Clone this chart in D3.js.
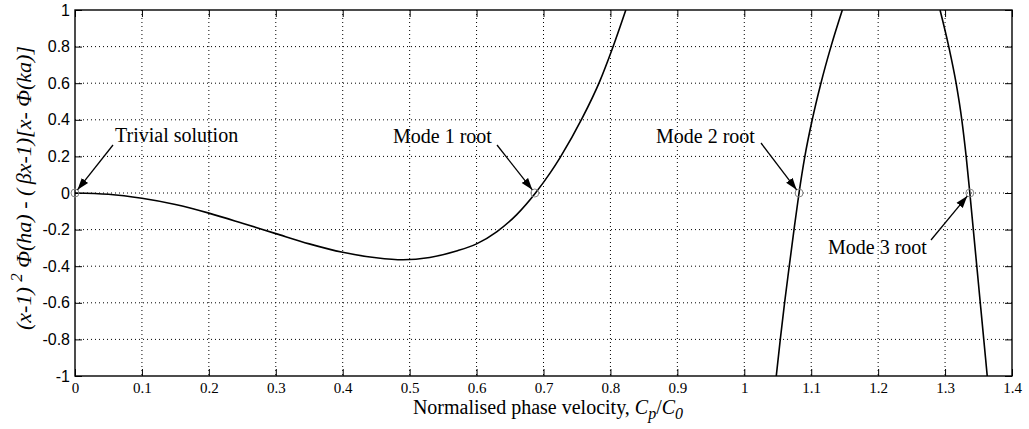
<!DOCTYPE html>
<meta charset="utf-8">
<html>
<head>
<script src="https://d3js.org/d3.v7.min.js"></script>
<style>
body { margin: 0; background: #fff; }
svg { display: block; }
.grid line { stroke: #000; stroke-width: 1; stroke-dasharray: 1,3; }
.lbl { font-family: "Liberation Serif", serif; fill: #000; }
</style>
</head>
<body>
<svg width="1029" height="429"></svg>
<script>

// branches of the dispersion function
var mode1X = [0, 0.05, 0.1, 0.15, 0.2, 0.25, 0.3, 0.35, 0.4, 0.45, 0.49, 0.53, 0.57, 0.6, 0.63, 0.66, 0.688, 0.71, 0.725, 0.758, 0.784, 0.802, 0.823];
var mode1Y = [0, -0.007, -0.029, -0.063, -0.11, -0.165, -0.222, -0.278, -0.324, -0.354, -0.365, -0.352, -0.317, -0.278, -0.212, -0.118, 0, 0.11, 0.195, 0.41, 0.61, 0.78, 1.0];

var mode2X = [1.0478, 1.0538, 1.0602, 1.0672, 1.0743, 1.0818, 1.0905, 1.1015, 1.1145, 1.1295, 1.1465];
var mode2Y = [-1, -0.8, -0.6, -0.4, -0.2, 0, 0.2, 0.4, 0.6, 0.8, 1];

var mode3X = [1.2925, 1.3055, 1.3165, 1.325, 1.3315, 1.337, 1.3422, 1.3474, 1.3526, 1.3578, 1.363];
var mode3Y = [1, 0.8, 0.6, 0.4, 0.2, 0, -0.2, -0.4, -0.6, -0.8, -1];

var rootX = [0, 0.687, 1.0818, 1.337];
var rootY = [0, 0, 0, 0];

var xTicks = [0, 0.1, 0.2, 0.3, 0.4, 0.5, 0.6, 0.7, 0.8, 0.9, 1, 1.1, 1.2, 1.3, 1.4];
var yTicks = [-1, -0.8, -0.6, -0.4, -0.2, 0, 0.2, 0.4, 0.6, 0.8, 1];

var notes = [
  { text: "Trivial solution", tx: 115, ty: 142, x0: 113, y0: 145, i: 0 },
  { text: "Mode 1 root", tx: 393, ty: 143, x0: 497, y0: 145, i: 1 },
  { text: "Mode 2 root", tx: 656, ty: 143, x0: 761, y0: 143, i: 2 },
  { text: "Mode 3 root", tx: 828, ty: 254, x0: 931, y0: 240, i: 3 }
];

var svg = d3.select("svg"),
    margin = {left: 75, right: 17, top: 10, bottom: 53},
    width = +svg.attr("width") - margin.left - margin.right,
    height = +svg.attr("height") - margin.top - margin.bottom;

var x = d3.scaleLinear().domain([0, 1.4]).range([margin.left, margin.left + width]);
var y = d3.scaleLinear().domain([-1, 1]).range([margin.top + height, margin.top]);

var defs = svg.append("defs");
defs.append("clipPath").attr("id", "clip")
  .append("rect").attr("x", margin.left).attr("y", margin.top)
  .attr("width", width).attr("height", height);
defs.append("marker").attr("id", "head")
  .attr("viewBox", "0 0 12 10").attr("refX", 12).attr("refY", 5)
  .attr("markerWidth", 12).attr("markerHeight", 10)
  .attr("markerUnits", "userSpaceOnUse")
  .attr("orient", "auto")
  .append("path").attr("d", "M0,1 L12,5 L0,9 Z").attr("fill", "#000");

// grid
svg.append("g").attr("class", "grid")
  .selectAll("line").data(xTicks.slice(1, -1)).enter().append("line")
  .attr("x1", d => x(d)).attr("x2", d => x(d))
  .attr("y1", margin.top).attr("y2", margin.top + height);
svg.append("g").attr("class", "grid")
  .selectAll("line").data(yTicks.slice(1, -1)).enter().append("line")
  .attr("y1", d => y(d)).attr("y2", d => y(d))
  .attr("x1", margin.left).attr("x2", margin.left + width);

// axes, ticks inward like matlab
var fmt = d => String(+d.toFixed(1));
svg.append("g")
  .attr("transform", "translate(0," + (margin.top + height) + ")")
  .call(d3.axisBottom(x).tickValues(xTicks).tickFormat(fmt).tickSizeInner(-7).tickSizeOuter(0).tickPadding(6))
  .call(g => g.select(".domain").remove())
  .call(g => g.selectAll("text").style("font-family", "'Liberation Serif', serif").style("font-size", "15px"));
svg.append("g")
  .attr("transform", "translate(0," + margin.top + ")")
  .call(d3.axisTop(x).tickValues(xTicks).tickFormat("").tickSizeInner(-7).tickSizeOuter(0))
  .call(g => g.select(".domain").remove());
svg.append("g")
  .attr("transform", "translate(" + margin.left + ",0)")
  .call(d3.axisLeft(y).tickValues(yTicks).tickFormat(fmt).tickSizeInner(-7).tickSizeOuter(0).tickPadding(5))
  .call(g => g.select(".domain").remove())
  .call(g => g.selectAll("text").style("font-family", "'Liberation Sans', Arial, sans-serif").style("font-size", "16px"));
svg.append("g")
  .attr("transform", "translate(" + (margin.left + width) + ",0)")
  .call(d3.axisRight(y).tickValues(yTicks).tickFormat("").tickSizeInner(-7).tickSizeOuter(0))
  .call(g => g.select(".domain").remove());
svg.selectAll(".tick line").attr("stroke", "#000");
svg.selectAll(".tick text").attr("fill", "#000");

svg.append("rect")
  .attr("x", margin.left).attr("y", margin.top)
  .attr("width", width).attr("height", height)
  .attr("fill", "none").attr("stroke", "#000").attr("stroke-width", 1.4);

// curves
var line = d3.line().x(d => x(d[0])).y(d => y(d[1])).curve(d3.curveMonotoneX);
[[mode1X, mode1Y], [mode2X, mode2Y], [mode3X, mode3Y]].forEach(function(m) {
  svg.append("path")
    .datum(d3.zip(m[0], m[1]))
    .attr("clip-path", "url(#clip)")
    .attr("fill", "none").attr("stroke", "#000").attr("stroke-width", 1.6)
    .attr("d", line);
});

// roots
svg.selectAll("circle.root").data(d3.zip(rootX, rootY)).enter().append("circle")
  .attr("class", "root")
  .attr("cx", d => x(d[0])).attr("cy", d => y(d[1])).attr("r", 4)
  .attr("fill", "none").attr("stroke", "#888").attr("stroke-width", 1);

// annotations
notes.forEach(function(n) {
  var tx = x(rootX[n.i]), ty = y(rootY[n.i]);
  var dx = tx - n.x0, dy = ty - n.y0, len = Math.sqrt(dx * dx + dy * dy);
  svg.append("line")
    .attr("x1", n.x0).attr("y1", n.y0)
    .attr("x2", tx - dx / len * 4).attr("y2", ty - dy / len * 4)
    .attr("stroke", "#000").attr("stroke-width", 1.3)
    .attr("marker-end", "url(#head)");
  svg.append("text").attr("class", "lbl").attr("font-size", 20)
    .attr("x", n.tx).attr("y", n.ty).text(n.text);
});

// axis labels
var xl = svg.append("text").attr("class", "lbl").attr("font-size", 20)
  .attr("x", 548).attr("y", 414).attr("text-anchor", "middle");
xl.append("tspan").text("Normalised phase velocity, ");
xl.append("tspan").attr("font-style", "italic").text("C");
xl.append("tspan").attr("font-style", "italic").attr("dy", 5).attr("font-size", 16).text("p");
xl.append("tspan").attr("dy", -5).text("/");
xl.append("tspan").attr("font-style", "italic").text("C");
xl.append("tspan").attr("font-style", "italic").attr("dy", 5).attr("font-size", 16).text("0");

var yl = svg.append("text").attr("class", "lbl").attr("font-size", 22)
  .attr("transform", "translate(31,188) rotate(-90)")
  .attr("text-anchor", "middle").attr("font-style", "italic");
yl.append("tspan").text("(x-1) ");
yl.append("tspan").attr("dy", -9).attr("font-size", 17).text("2");
yl.append("tspan").attr("dy", 9).text(" \u03A6(ha) - (\u2009\u03B2x-1)[x- \u03A6(ka)]");

</script>
</body>
</html>
